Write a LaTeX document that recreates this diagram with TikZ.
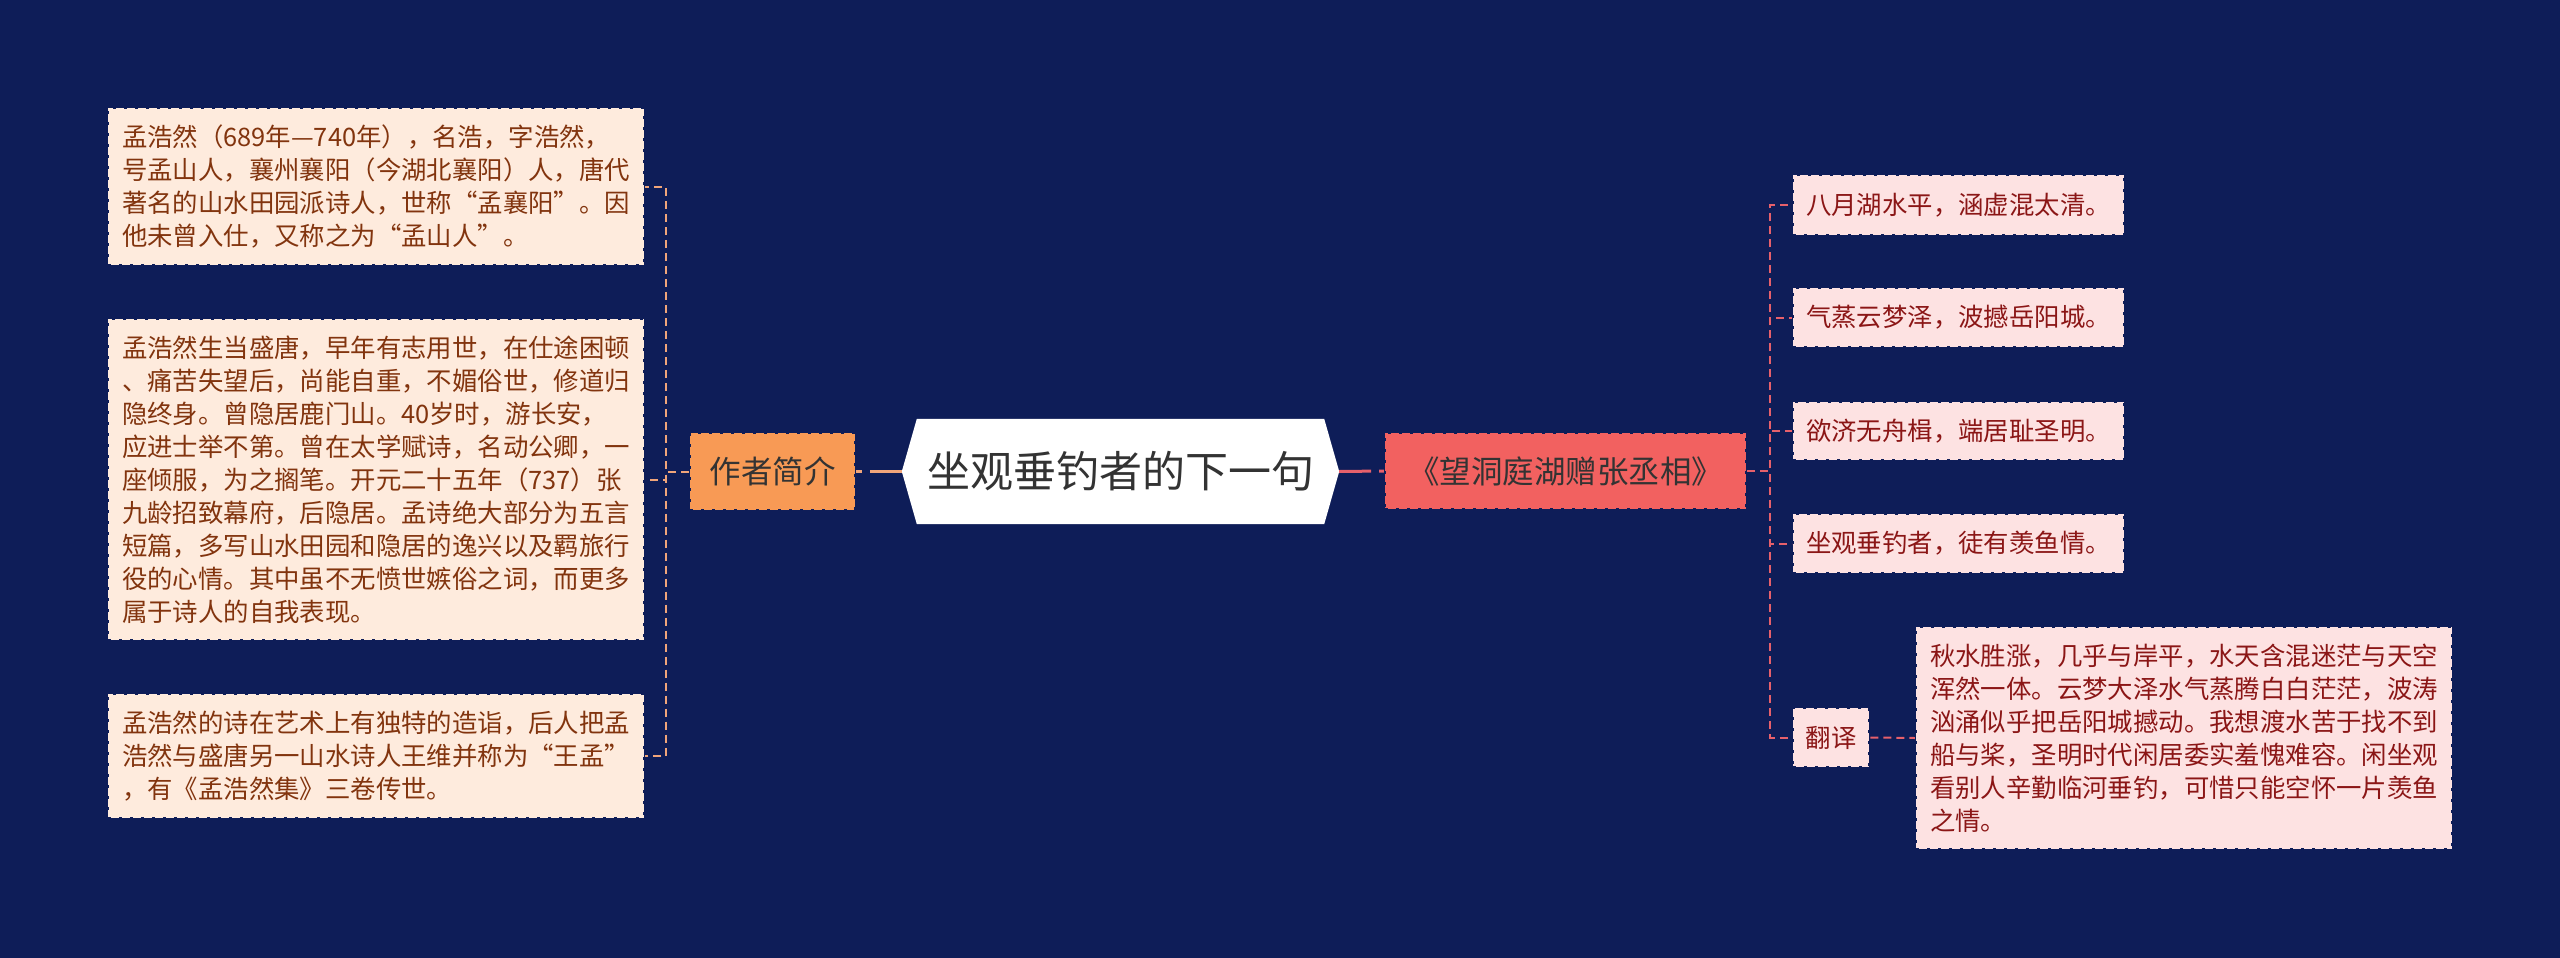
\documentclass[tikz,border=0pt]{standalone}
\usepackage{fontspec}
\newfontfamily\cjk{Noto Sans CJK SC}
\usetikzlibrary{backgrounds}
\definecolor{bgnavy}{HTML}{0E1D58}
\definecolor{lfill}{HTML}{FEEBDD}
\definecolor{ltext}{HTML}{82340E}
\definecolor{ofill}{HTML}{F89A55}
\definecolor{lline}{HTML}{F0A57A}
\definecolor{rfill}{HTML}{F26160}
\definecolor{rline}{HTML}{E6606B}
\definecolor{pfill}{HTML}{FDE2E2}
\definecolor{ptext}{HTML}{8B1616}
\definecolor{dark}{HTML}{333333}
\tikzset{
  body/.style={font={\cjk\fontsize{25.4}{33}\selectfont}, align=left, inner sep=0pt,
    line width=2.5pt, draw=bgnavy, dash pattern=on 3pt off 8pt},
  lbox/.style={body, fill=lfill, text=ltext, minimum width=536pt},
  pbox/.style={body, fill=pfill, text=ptext},
  topic/.style={font={\cjk\fontsize{31.5}{36}\selectfont}, inner sep=0pt, text=dark,
    line width=2.5pt, draw=bgnavy, dash pattern=on 3pt off 8pt},
  hexnode/.style={font={\cjk\fontsize{43}{48}\selectfont}, inner sep=0pt, text=dark,
    minimum width=437pt, minimum height=105pt},
  lconn/.style={draw=lline, line width=2pt, dash pattern=on 8pt off 5pt},
  rconn/.style={draw=rline, line width=2pt, dash pattern=on 8pt off 5pt},
  ltrunk/.style={draw=lline, line width=3pt, dash pattern=on 32pt off 8pt},
  rtrunk/.style={draw=rline, line width=3pt, dash pattern=on 32pt off 8pt},
}
\begin{document}
\begin{tikzpicture}[x=1pt,y=-1pt]
\useasboundingbox (0,0) rectangle (2560,958);
\begin{scope}[on background layer]
\fill[bgnavy] (0,0) rectangle (2560,958);
\end{scope}

% central topic
\node[hexnode] (root) at (1120.5,471.5) {坐观垂钓者的下一句};
\begin{scope}[on background layer]
\fill[white] (root.west) -- ([xshift=15pt]root.north west) -- ([xshift=-15pt]root.north east)
  -- (root.east) -- ([xshift=-15pt]root.south east) -- ([xshift=15pt]root.south west) -- cycle;
\end{scope}

% main topics
\node[topic, fill=ofill, minimum width=165pt, minimum height=77pt] (author) at (772.5,471.5) {作者简介};
\node[topic, fill=rfill, minimum width=361pt, minimum height=76pt] (poem) at (1565.5,471) {《望洞庭湖赠张丞相》};

% left boxes
\node[lbox, minimum height=157pt] (L1) at (376,186.5) {孟浩然（689年—740年），名浩，字浩然，\\号孟山人，襄州襄阳（今湖北襄阳）人，唐代\\著名的山水田园派诗人，世称“孟襄阳”。因\\他未曾入仕，又称之为“孟山人”。};
\node[lbox, minimum height=321pt] (L2) at (376,479.5) {孟浩然生当盛唐，早年有志用世，在仕途困顿\\、痛苦失望后，尚能自重，不媚俗世，修道归\\隐终身。曾隐居鹿门山。40岁时，游长安，\\应进士举不第。曾在太学赋诗，名动公卿，一\\座倾服，为之搁笔。开元二十五年（737）张\\九龄招致幕府，后隐居。孟诗绝大部分为五言\\短篇，多写山水田园和隐居的逸兴以及羁旅行\\役的心情。其中虽不无愤世嫉俗之词，而更多\\属于诗人的自我表现。};
\node[lbox, minimum height=124pt] (L3) at (376,756) {孟浩然的诗在艺术上有独特的造诣，后人把孟\\浩然与盛唐另一山水诗人王维并称为“王孟”\\，有《孟浩然集》三卷传世。};

% right boxes
\node[pbox, minimum width=331pt, minimum height=60pt] (a) at (1958.5,205) {八月湖水平，涵虚混太清。};
\node[pbox, minimum width=331pt, minimum height=59pt] (b) at (1958.5,317.5) {气蒸云梦泽，波撼岳阳城。};
\node[pbox, minimum width=331pt, minimum height=58pt] (c) at (1958.5,431) {欲济无舟楫，端居耻圣明。};
\node[pbox, minimum width=331pt, minimum height=59pt] (d) at (1958.5,543.5) {坐观垂钓者，徒有羡鱼情。};
\node[pbox, minimum width=76pt, minimum height=59pt] (tr) at (1831,737.5) {翻译};
\node[pbox, minimum width=536pt, minimum height=222pt] (trans) at (2184,738) {秋水胜涨，几乎与岸平，水天含混迷茫与天空\\浑然一体。云梦大泽水气蒸腾白白茫茫，波涛\\汹涌似乎把岳阳城撼动。我想渡水苦于找不到\\船与桨，圣明时代闲居委实羞愧难容。闲坐观\\看别人辛勤临河垂钓，可惜只能空怀一片羡鱼\\之情。};

% connectors
\draw[ltrunk] (root.west) -- (author.east);
\draw[rtrunk] (root.east) -- (poem.west);
\draw[lconn] (author.west) -- ++(-23,0) |- (L1.east);
\draw[lconn] (author.west) -- ++(-23,0) |- (L2.east);
\draw[lconn] (author.west) -- ++(-23,0) |- (L3.east);
\draw[rconn] (poem.east) -- ++(23,0) |- (a.west);
\draw[rconn] (poem.east) -- ++(23,0) |- (b.west);
\draw[rconn] (poem.east) -- ++(23,0) |- (c.west);
\draw[rconn] (poem.east) -- ++(23,0) |- (d.west);
\draw[rconn] (poem.east) -- ++(23,0) |- (tr.west);
\draw[rconn] (tr.east) -- (trans.west);
\end{tikzpicture}
\end{document}
